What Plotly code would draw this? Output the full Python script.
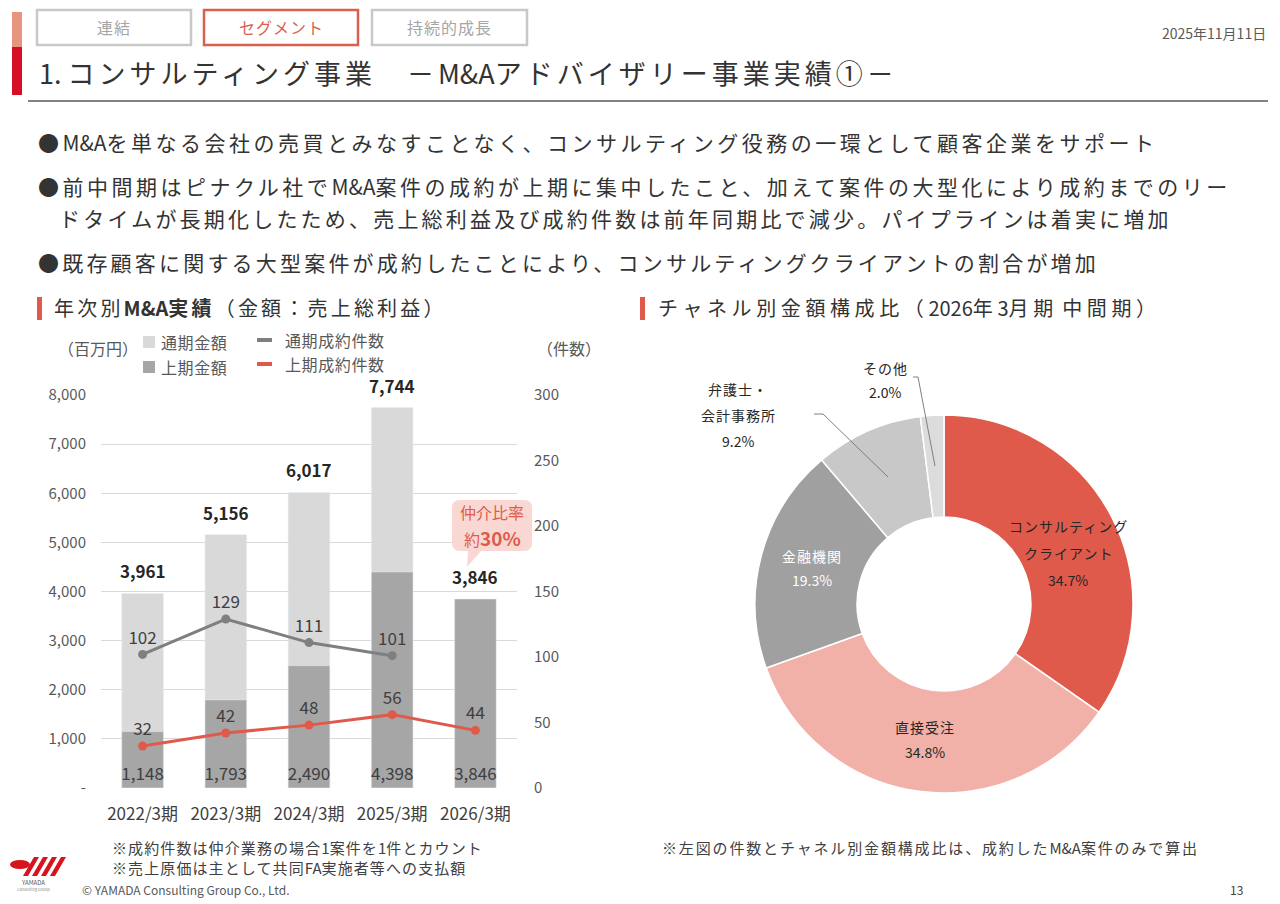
import re
import plotly.graph_objects as go

# ---------------- data ----------------
categories = ["2022/3期", "2023/3期", "2024/3期", "2025/3期", "2026/3期"]
full_year_amount = [3961, 5156, 6017, 7744, None]   # 通期金額
h1_amount = [1148, 1793, 2490, 4398, 3846]          # 上期金額
full_year_deals = [102, 129, 111, 101, None]        # 通期成約件数
h1_deals = [32, 42, 48, 56, 44]                     # 上期成約件数

left_ticks = [0, 1000, 2000, 3000, 4000, 5000, 6000, 7000, 8000]
right_ticks = [0, 50, 100, 150, 200, 250, 300]

channel_labels = ["コンサルティングクライアント", "直接受注", "金融機関", "弁護士・会計事務所", "その他"]
channel_label_lines = [["コンサルティング", "クライアント"], ["直接受注"], ["金融機関"],
                       ["弁護士・", "会計事務所"], ["その他"]]
channel_share = [34.7, 34.8, 19.3, 9.2, 2.0]

# ---------------- helpers ----------------
W, H = 1280, 904
OFF = 8  # page body margin compensation
FONT = "Noto Sans CJK JP"


def X(p):
    return (p - OFF) / W


def Y(p):
    return 1 - (p - OFF) / H


annotations = []
shapes = []


def sp(s, ls):
    """letter-spacing on non-ASCII runs only"""
    if not ls:
        return s
    out = []
    for run in re.findall(r"[\x00-\x7f]+|[^\x00-\x7f]+", s):
        if ord(run[0]) < 128:
            out.append(run)
        else:
            out.append(f"<span style='letter-spacing:{ls}px'>{run}</span>")
    return "".join(out)


def txt(x, y, s, size=14, color="#404040", anchor="left", bold=False, ls=0, raw=False):
    s = s if raw else sp(s, ls)
    if bold:
        s = "<b>" + s + "</b>"
    annotations.append(dict(x=X(x), y=Y(y), xref="paper", yref="paper", text=s,
                            showarrow=False, xanchor=anchor, yanchor="middle",
                            font=dict(size=size, color=color, family=FONT)))


def rect(x0, y0, x1, y1, fill=None, line=None, lw=0):
    shapes.append(dict(type="rect", xref="paper", yref="paper",
                       x0=X(x0), x1=X(x1), y0=Y(y1), y1=Y(y0),
                       fillcolor=fill if fill else "rgba(0,0,0,0)",
                       line=dict(color=line if line else "rgba(0,0,0,0)", width=lw)))


def seg(x0, y0, x1, y1, color, w=1):
    shapes.append(dict(type="line", xref="paper", yref="paper",
                       x0=X(x0), x1=X(x1), y0=Y(y0), y1=Y(y1),
                       line=dict(color=color, width=w)))


def path(points, fill, line=None, lw=0, closed=True):
    d = "M " + " L ".join(f"{X(a):.5f},{Y(b):.5f}" for a, b in points)
    if closed:
        d += " Z"
    shapes.append(dict(type="path", xref="paper", yref="paper", path=d,
                       fillcolor=fill, line=dict(color=line if line else "rgba(0,0,0,0)", width=lw)))


RED = "#e05a4b"
LIGHT = "#d9d9d9"
DARK = "#a6a6a6"
GRAYLINE = "#7f7f7f"
TXT = "#404040"

# ---------------- figure ----------------
fig = go.Figure()

fig.add_trace(go.Bar(x=categories, y=full_year_amount, marker=dict(color=LIGHT),
                     width=0.5, showlegend=False, hoverinfo="skip", name="通期金額"))
fig.add_trace(go.Bar(x=categories, y=h1_amount, marker=dict(color=DARK), width=0.5,
                     text=[f"{v:,}" for v in h1_amount], textposition="inside",
                     insidetextanchor="start", constraintext="none", textangle=0,
                     textfont=dict(size=17, color=TXT, family=FONT),
                     showlegend=False, hoverinfo="skip", name="上期金額"))

fig.add_trace(go.Scatter(x=categories, y=full_year_deals, yaxis="y2", mode="lines+markers+text",
                         line=dict(color=GRAYLINE, width=3), marker=dict(size=9, color=GRAYLINE),
                         text=[str(v) if v is not None else "" for v in full_year_deals],
                         textposition="top center", textfont=dict(size=17, color=TXT, family=FONT),
                         showlegend=False, hoverinfo="skip", cliponaxis=False, name="通期成約件数"))
fig.add_trace(go.Scatter(x=categories, y=h1_deals, yaxis="y2", mode="lines+markers+text",
                         line=dict(color=RED, width=3), marker=dict(size=9, color=RED),
                         text=[str(v) for v in h1_deals],
                         textposition="top center", textfont=dict(size=17, color=TXT, family=FONT),
                         showlegend=False, hoverinfo="skip", cliponaxis=False, name="上期成約件数"))

# total labels above the bars (data-anchored)
top_values = [f if f is not None else h for f, h in zip(full_year_amount, h1_amount)]
for c, v in zip(categories, top_values):
    annotations.append(dict(x=c, y=v, xref="x", yref="y", text=f"<b>{v:,}</b>", showarrow=False,
                            yanchor="bottom", yshift=8,
                            font=dict(size=17, color="#262626", family=FONT)))

# donut
fig.add_trace(go.Pie(labels=channel_labels, values=channel_share, hole=0.46, sort=False,
                     direction="clockwise", rotation=0, textinfo="none", hoverinfo="skip",
                     marker=dict(colors=[RED, "#f1b1a8", "#a0a0a0", "#c8c8c8", "#dcdcdc"],
                                 line=dict(color="white", width=1.5)),
                     domain=dict(x=[X(755), X(1133)], y=[Y(793), Y(415)]),
                     showlegend=False))

# ---------------- page decoration ----------------
rect(12, 12, 22, 47, fill="#e8957f")
rect(12, 47, 22, 95, fill="#d50f25")
rect(37, 10, 191, 45, line="#c8c8c8", lw=2.5)
rect(204, 10, 358, 45, line="#d9604e", lw=2.5)
rect(372, 10, 527, 45, line="#c8c8c8", lw=2.5)
txt(114, 27, "連結", 16, "#a6a6a6", "center", ls=1)
txt(281, 27, "セグメント", 16, "#d9604e", "center", ls=1)
txt(449, 27, "持続的成長", 16, "#a6a6a6", "center", ls=1)
txt(1268, 33, "2025年11月11日", 14, "#595959", "right")
txt(37, 72, "1. コンサルティング事業　－M&Aアドバイザリー事業実績①－", 27, "#333333", ls=4)
seg(28, 101, 1268, 101, "#595959", 1.5)

# bullets
BL = 3.5
txt(36, 142, "●M&Aを単なる会社の売買とみなすことなく、コンサルティング役務の一環として顧客企業をサポート", 21, "#333333", ls=BL)
txt(36, 186, "●前中間期はピナクル社でM&A案件の成約が上期に集中したこと、加えて案件の大型化により成約までのリー", 21, "#333333", ls=BL)
txt(57, 218, "ドタイムが長期化したため、売上総利益及び成約件数は前年同期比で減少。パイプラインは着実に増加", 21, "#333333", ls=3.2)
txt(36, 262, "●既存顧客に関する大型案件が成約したことにより、コンサルティングクライアントの割合が増加", 21, "#333333", ls=3.2)

# section titles
rect(37, 297, 42, 320, fill=RED)
txt(52, 308, sp("年次別", 3.2) + "<b>M&A" + sp("実績", 3.2) + "</b>" + sp("（金額：売上総利益）", 3.2),
    20, "#333333", raw=True)
rect(640, 297, 645, 320, fill=RED)
txt(656, 308, "チャネル別金額構成比（2026年3月期 中間期）", 20, "#333333", ls=4.6)

# custom legend
txt(56, 348, "（百万円）", 16, "#595959")
txt(535, 348, "（件数）", 16, "#595959")
rect(143, 336, 155, 348, fill=LIGHT)
txt(159, 342, "通期金額", 16, "#595959", ls=0.6)
rect(143, 361, 155, 373, fill=DARK)
txt(159, 367, "上期金額", 16, "#595959", ls=0.6)
seg(257, 340, 272, 340, GRAYLINE, 4)
txt(283, 340, "通期成約件数", 16, "#595959", ls=0.6)
seg(257, 364, 272, 364, RED, 4)
txt(283, 364, "上期成約件数", 16, "#595959", ls=0.6)

# callout 仲介比率
x0, y0, x1, y1, r = 452, 500, 532, 551, 8
d = (f"M {X(x0 + r)},{Y(y0)} L {X(x1 - r)},{Y(y0)} Q {X(x1)},{Y(y0)} {X(x1)},{Y(y0 + r)} "
     f"L {X(x1)},{Y(y1 - r)} Q {X(x1)},{Y(y1)} {X(x1 - r)},{Y(y1)} "
     f"L {X(481)},{Y(y1)} L {X(467)},{Y(567)} L {X(468)},{Y(y1)} "
     f"L {X(x0 + r)},{Y(y1)} Q {X(x0)},{Y(y1)} {X(x0)},{Y(y1 - r)} "
     f"L {X(x0)},{Y(y0 + r)} Q {X(x0)},{Y(y0)} {X(x0 + r)},{Y(y0)} Z")
shapes.append(dict(type="path", xref="paper", yref="paper", path=d,
                   fillcolor="#f9d8d4", line=dict(color="rgba(0,0,0,0)", width=0)))
txt(492, 512, "仲介比率", 16, RED, "center")
txt(492, 537, "約<b><span style='font-size:19px'>30%</span></b>", 16, RED, "center", raw=True)

# footnotes
txt(110, 847, "※成約件数は仲介業務の場合1案件を1件とカウント", 15, "#404040", ls=1.1)
txt(110, 867, "※売上原価は主として共同FA実施者等への支払額", 15, "#404040", ls=1.1)
txt(660, 847, "※左図の件数とチャネル別金額構成比は、成約したM&A案件のみで算出", 15, "#404040", ls=1.85)
txt(80, 889, "© YAMADA Consulting Group Co., Ltd.", 12, "#595959")
txt(1236, 889, "13", 12, "#404040", "center")

# logo
shapes.append(dict(type="circle", xref="paper", yref="paper", x0=X(10), x1=X(30), y0=Y(869), y1=Y(860),
                   fillcolor="#d7141e", line=dict(width=0)))
for k in range(4):
    ox = 26 + k * 9
    path([(ox + 8, 857), (ox + 13, 857), (ox + 2, 876), (ox - 3, 876)], "#d7141e")
txt(33, 882, "YAMADA", 6, "#595959", "center")
txt(33, 889, "Consulting Group", 4, "#8c8c8c", "center")

# donut labels
pie_label_pos = [(1068, 526, 27, "#262626"), (925, 727, 25, "#262626"), (812, 556, 24, "#ffffff"),
                 (738, 389, 26, "#262626"), (885, 368, 24, "#262626")]
for lines, share, (cx, cy, step, col) in zip(channel_label_lines, channel_share, pie_label_pos):
    all_lines = lines + [f"{share:.1f}%"]
    for i, s in enumerate(all_lines):
        txt(cx, cy + i * step, s, 14, col, "center", ls=1)
# leader lines
path([(814, 414), (823, 414), (888, 477)], "rgba(0,0,0,0)", "#7f7f7f", 1, closed=False)
path([(913, 377), (918, 377), (935, 466)], "rgba(0,0,0,0)", "#7f7f7f", 1, closed=False)

fig.update_layout(
    width=W, height=H, margin=dict(l=0, r=0, t=0, b=0, autoexpand=False),
    paper_bgcolor="white", plot_bgcolor="white",
    font=dict(family=FONT, color=TXT),
    barmode="overlay",
    xaxis=dict(domain=[X(101), X(517)], type="category", showgrid=False, zeroline=False,
               showline=False, ticks="", tickfont=dict(size=17, color=TXT), ticklabelstandoff=14),
    yaxis=dict(domain=[Y(788), Y(395)], range=[0, 8000], tickvals=left_ticks,
               ticktext=["-" if v == 0 else f"{v:,}" for v in left_ticks],
               showgrid=True, gridcolor="#d9d9d9", gridwidth=1, zeroline=False, showline=False,
               tickfont=dict(size=15, color="#595959"), ticklabelstandoff=14),
    yaxis2=dict(domain=[Y(788), Y(395)], range=[0, 300], tickvals=right_ticks, overlaying="y",
                side="right", showgrid=False, zeroline=False, showline=False,
                tickfont=dict(size=15, color="#595959"), ticklabelstandoff=16),
    annotations=annotations, shapes=shapes,
)

fig.write_html("out.html")
